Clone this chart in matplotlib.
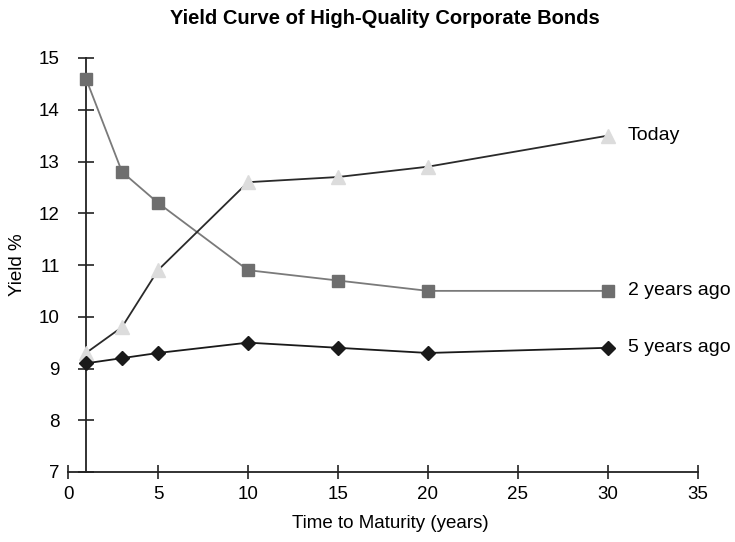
import matplotlib
matplotlib.use("Agg")
import matplotlib.pyplot as plt

plt.rcParams['font.family'] = ['Liberation Sans', 'DejaVu Sans']

maturity = [1, 3, 5, 10, 15, 20, 30]
today = [9.3, 9.8, 10.9, 12.6, 12.7, 12.9, 13.5]
two_years_ago = [14.6, 12.8, 12.2, 10.9, 10.7, 10.5, 10.5]
five_years_ago = [9.1, 9.2, 9.3, 9.5, 9.4, 9.3, 9.4]
series_names = ["Today", "2 years ago", "5 years ago"]
x_ticks = [0, 5, 10, 15, 20, 25, 30, 35]
y_ticks = [7, 8, 9, 10, 11, 12, 13, 14, 15]

fig = plt.figure(figsize=(7.35, 5.42), dpi=100)
ax = fig.add_axes([68/735, 1-472/542, (698-68)/735, (472-58)/542])

ax.plot(maturity, two_years_ago, color='#7a7a7a', lw=1.3, marker='s', ms=9,
        mfc='#6e6e6e', mec='#6e6e6e', zorder=3)
ax.plot(maturity, today, color='#2a2a2a', lw=1.3, marker='^', ms=10,
        mfc='#dcdcdc', mec='#dcdcdc', zorder=4)
ax.plot(maturity, five_years_ago, color='#1a1a1a', lw=1.3, marker='D', ms=7,
        mfc='#1a1a1a', mec='#1a1a1a', zorder=5)

for vals, name in zip([today, two_years_ago, five_years_ago], series_names):
    ax.annotate(name, (maturity[-1], vals[-1]), xytext=(20, 0),
                textcoords='offset pixels', va='center', ha='left', fontsize=14)

ax.set_xlim(0, 35)
ax.set_ylim(7, 15)
ax.set_xticks(x_ticks)
ax.set_yticks(y_ticks)

ax.spines['top'].set_visible(False)
ax.spines['right'].set_visible(False)
ax.spines['left'].set_position(('data', 1))
for s in ['left', 'bottom']:
    ax.spines[s].set_linewidth(1.3)
    ax.spines[s].set_color('#222222')

ax.tick_params(axis='y', direction='inout', length=12, width=1.2, pad=13, labelsize=13.5, color='#222222')
ax.tick_params(axis='x', direction='inout', length=10, width=1.2, pad=5, labelsize=13.5, color='#222222')

ax.set_xlabel("Time to Maturity (years)", fontsize=13.5)
ax.xaxis.set_label_coords(0.511, -0.103)
fig.text(18/735, 1-265/542, "Yield %", rotation=90, va='center', ha='center', fontsize=13.5)
fig.text(385/735, 1-18/542, "Yield Curve of High-Quality Corporate Bonds", ha='center', va='center',
         fontsize=14.5, fontweight='bold')
for line in ax.lines:
    line.set_clip_on(False)

fig.savefig("out.png", dpi=100)
